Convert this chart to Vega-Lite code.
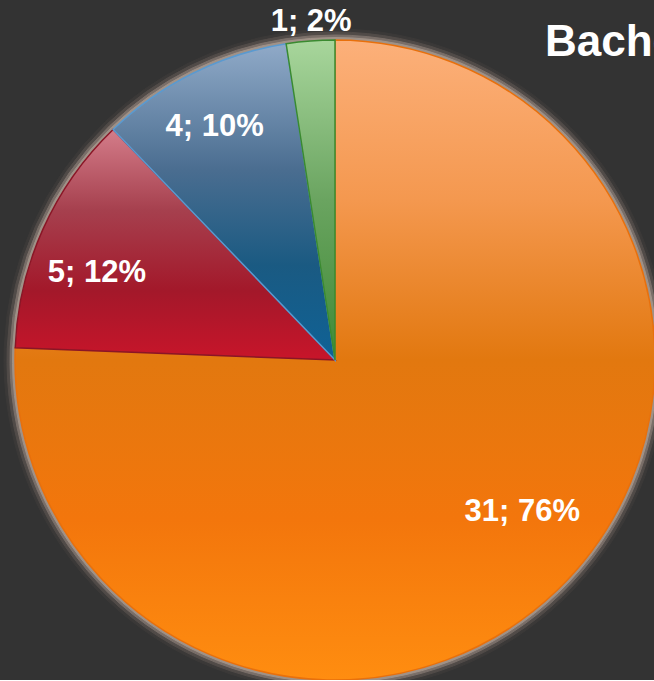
{
  "$schema": "https://vega.github.io/schema/vega-lite/v6.json",
  "background": "#333333",
  "autosize": {"type": "none"},
  "padding": {"left": 15, "top": 40, "right": 0, "bottom": 0},
  "width": 640,
  "height": 640,
  "title": {
    "text": "Bachelor",
    "anchor": "start",
    "frame": "group",
    "orient": "none",
    "offset": 0,
    "dx": 530,
    "dy": 16,
    "baseline": "alphabetic",
    "font": "Liberation Sans",
    "fontSize": 44,
    "fontWeight": "bold",
    "color": "#ffffff"
  },
  "data": {
    "values": [
      {"cat": "A", "value": 31, "label": "31; 76%", "order": 1},
      {"cat": "B", "value": 5, "label": "5; 12%", "order": 2},
      {"cat": "C", "value": 4, "label": "4; 10%", "order": 3},
      {"cat": "D", "value": 1, "label": "1; 2%", "order": 4}
    ]
  },
  "encoding": {
    "theta": {"field": "value", "type": "quantitative", "stack": true},
    "order": {"field": "order", "type": "quantitative"}
  },
  "layer": [
    {"mark": {"type": "arc", "radius": 331, "fill": "#3b3938", "stroke": "#3b3938", "strokeWidth": 1}},
    {"mark": {"type": "arc", "radius": 328, "fill": "#514b48", "stroke": "#514b48", "strokeWidth": 1}},
    {"mark": {"type": "arc", "radius": 325, "fill": "#7a6f69", "stroke": "#7a6f69", "strokeWidth": 1}},
    {"mark": {"type": "arc", "radius": 322.5, "fill": "#a09288", "stroke": "#a09288", "strokeWidth": 1}},
    {
      "mark": {"type": "arc", "radius": 320, "strokeWidth": 1.5},
      "encoding": {
        "fill": {
          "condition": [
            {"test": "datum.cat === 'A'", "value": {"gradient": "linear", "x1": 0, "y1": 0, "x2": 0, "y2": 1, "stops": [
              {"offset": 0, "color": "#fcb07a"},
              {"offset": 0.25, "color": "#f4984f"},
              {"offset": 0.5, "color": "#e2780f"},
              {"offset": 0.75, "color": "#f3760c"},
              {"offset": 1, "color": "#ff8d10"}]}},
            {"test": "datum.cat === 'B'", "value": {"gradient": "linear", "x1": 0, "y1": 0, "x2": 0, "y2": 1, "stops": [
              {"offset": 0, "color": "#d47d8a"},
              {"offset": 0.35, "color": "#a6404e"},
              {"offset": 0.7, "color": "#a3182a"},
              {"offset": 1, "color": "#c8152a"}]}},
            {"test": "datum.cat === 'C'", "value": {"gradient": "linear", "x1": 0, "y1": 0, "x2": 0, "y2": 1, "stops": [
              {"offset": 0, "color": "#90aac8"},
              {"offset": 0.4, "color": "#4a6d90"},
              {"offset": 0.7, "color": "#1a5a82"},
              {"offset": 1, "color": "#0f6296"}]}}
          ],
          "value": {"gradient": "linear", "x1": 0, "y1": 0, "x2": 0, "y2": 1, "stops": [
            {"offset": 0, "color": "#a8d69c"},
            {"offset": 0.5, "color": "#6aa460"},
            {"offset": 1, "color": "#3f8a36"}]}
        },
        "stroke": {
          "condition": [
            {"test": "datum.cat === 'A'", "value": "#e8700c"},
            {"test": "datum.cat === 'B'", "value": "#8a1626"},
            {"test": "datum.cat === 'C'", "value": "#5a9ad0"}
          ],
          "value": "#3a8a30"
        }
      }
    },
    {
      "mark": {"type": "text", "radius": 250, "dx": 14, "dy": -28, "font": "Liberation Sans", "fontSize": 31, "fontWeight": "bold", "fill": "#ffffff", "align": "center", "baseline": "middle"},
      "encoding": {"text": {"condition": {"test": "datum.cat !== 'A'", "value": ""}, "field": "label"}}
    },
    {
      "mark": {"type": "text", "radius": 250, "dx": -10, "dy": 15, "font": "Liberation Sans", "fontSize": 31, "fontWeight": "bold", "fill": "#ffffff", "align": "center", "baseline": "middle"},
      "encoding": {"text": {"condition": {"test": "datum.cat !== 'B'", "value": ""}, "field": "label"}}
    },
    {
      "mark": {"type": "text", "radius": 260, "dx": -5, "dy": 0, "font": "Liberation Sans", "fontSize": 31, "fontWeight": "bold", "fill": "#ffffff", "align": "center", "baseline": "middle"},
      "encoding": {"text": {"condition": {"test": "datum.cat !== 'C'", "value": ""}, "field": "label"}}
    },
    {
      "mark": {"type": "text", "radius": 338, "dx": 2, "dy": -1, "font": "Liberation Sans", "fontSize": 31, "fontWeight": "bold", "fill": "#ffffff", "align": "center", "baseline": "middle"},
      "encoding": {"text": {"condition": {"test": "datum.cat !== 'D'", "value": ""}, "field": "label"}}
    }
  ],
  "config": {"view": {"stroke": null}}
}
